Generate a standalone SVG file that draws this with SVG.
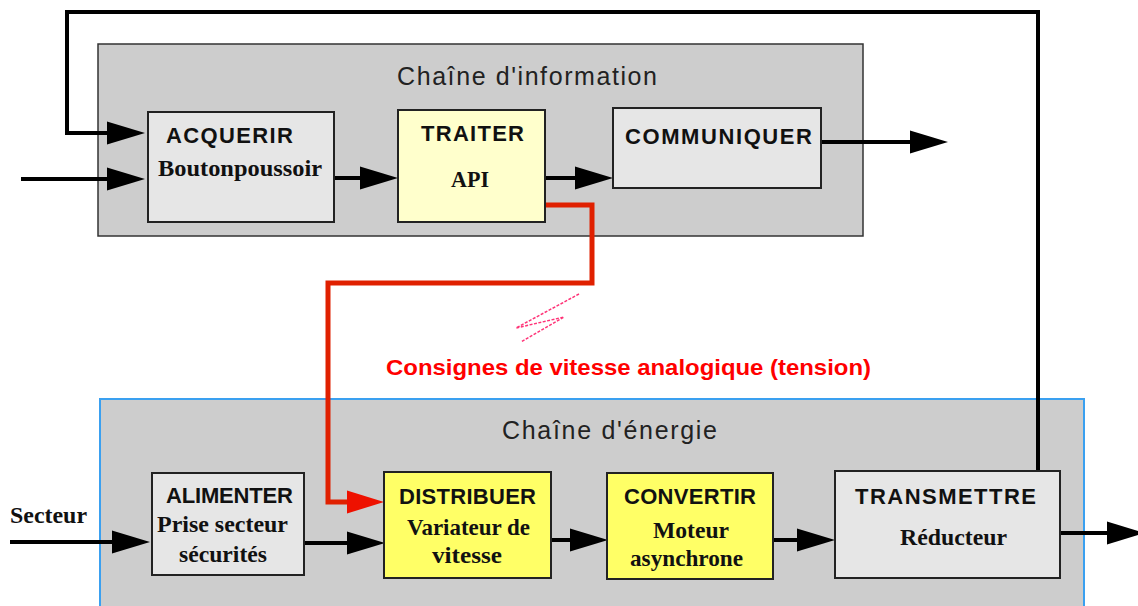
<svg xmlns="http://www.w3.org/2000/svg" width="1138" height="606" viewBox="0 0 1138 606">
<style>
.box{stroke:#222;stroke-width:2}
.grey{fill:#e6e6e6}
.pale{fill:#ffffcc}
.yel{fill:#ffff66}
.h{font-family:"Liberation Sans",Arial,sans-serif;font-weight:bold;font-size:22px;fill:#111}
.s{font-family:"Liberation Serif","Times New Roman",serif;font-weight:bold;font-size:24px;fill:#111}
.t{font-family:"Liberation Sans",Arial,sans-serif;font-size:25px;fill:#222}
.c{fill:none;stroke:#000;stroke-width:4}
.r{fill:none;stroke:#e02000;stroke-width:5}
</style>
<defs>
<marker id="ah" markerUnits="userSpaceOnUse" markerWidth="40" markerHeight="24" refX="0" refY="12" orient="auto" overflow="visible">
<path d="M0,0.5 L38,12 L0,23.5 Z" fill="#000"/>
</marker>
<marker id="ahr" markerUnits="userSpaceOnUse" markerWidth="40" markerHeight="24" refX="0" refY="12" orient="auto" overflow="visible">
<path d="M0,0.5 L37,12 L0,23.5 Z" fill="#ee1100"/>
</marker>
</defs>
<rect width="1138" height="606" fill="#fff"/>
<g id="chaine-information">
<rect x="98" y="44" width="765" height="192" fill="#cdcdcd" stroke="#333" stroke-width="1.5"/>
<text class="t" x="397" y="85" textLength="260" lengthAdjust="spacing">Chaîne d'information</text>
</g>
<g id="chaine-energie">
<rect x="100" y="399" width="984" height="215" fill="#cdcdcd" stroke="#3aa0f0" stroke-width="2"/>
<text class="t" x="502" y="439" textLength="215" lengthAdjust="spacing">Chaîne d'énergie</text>
</g>
<g id="connectors">
<path class="c" d="M1038,471 V12 H67 V133 H107" marker-end="url(#ah)"/>
<path class="c" d="M21,179 H107" stroke-width="3" marker-end="url(#ah)"/>
<path class="c" d="M334,178 H360" marker-end="url(#ah)"/>
<path class="c" d="M545,178 H575" marker-end="url(#ah)"/>
<path class="c" d="M821,142 H910" marker-end="url(#ah)"/>
<path class="r" d="M545,205 H592 V283 H328 V502 H347" marker-end="url(#ahr)"/>
<path class="c" d="M10,542 H112" marker-end="url(#ah)"/>
<path class="c" d="M304,543 H347" marker-end="url(#ah)"/>
<path class="c" d="M551,540 H570" marker-end="url(#ah)"/>
<path class="c" d="M773,540 H797" marker-end="url(#ah)"/>
<path class="c" d="M1060,533 H1107" marker-end="url(#ah)"/>
<polyline points="579,294 516,328 564,317 521,342" fill="none" stroke="#ff3377" stroke-width="1.5" stroke-dasharray="3,1.5"/>
<text x="386" y="375" textLength="485" lengthAdjust="spacingAndGlyphs" font-family="Liberation Sans, Arial, sans-serif" font-weight="bold" font-size="22" fill="#ff0000">Consignes de vitesse analogique (tension)</text>
<text class="s" x="10" y="523" textLength="77" lengthAdjust="spacingAndGlyphs">Secteur</text>
</g>
<g id="acquerir">
<rect class="box grey" x="148" y="112" width="186" height="110"/>
<text class="h" x="166" y="143" textLength="127" lengthAdjust="spacing">ACQUERIR</text>
<text class="s" x="158" y="176" textLength="164" lengthAdjust="spacingAndGlyphs">Boutonpoussoir</text>
</g>
<g id="traiter">
<rect class="box pale" x="398" y="110" width="147" height="112"/>
<text class="h" x="421" y="141" textLength="103" lengthAdjust="spacing">TRAITER</text>
<text class="s" x="451" y="187" textLength="38" lengthAdjust="spacingAndGlyphs">API</text>
</g>
<g id="communiquer">
<rect class="box grey" x="613" y="108" width="208" height="80"/>
<text class="h" x="625" y="144" textLength="187" lengthAdjust="spacing">COMMUNIQUER</text>
</g>
<g id="alimenter">
<rect class="box grey" x="152" y="473" width="152" height="102"/>
<text class="h" x="166" y="503" textLength="127" lengthAdjust="spacing">ALIMENTER</text>
<text class="s" x="157" y="532" textLength="131" lengthAdjust="spacingAndGlyphs">Prise secteur</text>
<text class="s" x="179" y="562" textLength="88" lengthAdjust="spacingAndGlyphs">sécurités</text>
</g>
<g id="distribuer">
<rect class="box yel" x="384" y="472" width="167" height="106"/>
<text class="h" x="399" y="504" textLength="137" lengthAdjust="spacing">DISTRIBUER</text>
<text class="s" x="407" y="535" textLength="123" lengthAdjust="spacingAndGlyphs">Variateur de</text>
<text class="s" x="432" y="563" textLength="70" lengthAdjust="spacingAndGlyphs">vitesse</text>
</g>
<g id="convertir">
<rect class="box yel" x="607" y="473" width="166" height="106"/>
<text class="h" x="624" y="504" textLength="132" lengthAdjust="spacing">CONVERTIR</text>
<text class="s" x="653" y="538" textLength="76" lengthAdjust="spacingAndGlyphs">Moteur</text>
<text class="s" x="630" y="566" textLength="113" lengthAdjust="spacingAndGlyphs">asynchrone</text>
</g>
<g id="transmettre">
<rect class="box grey" x="835" y="471" width="225" height="107"/>
<text class="h" x="855" y="504" textLength="181" lengthAdjust="spacing">TRANSMETTRE</text>
<text class="s" x="900" y="545" textLength="107" lengthAdjust="spacingAndGlyphs">Réducteur</text>
</g>
</svg>
